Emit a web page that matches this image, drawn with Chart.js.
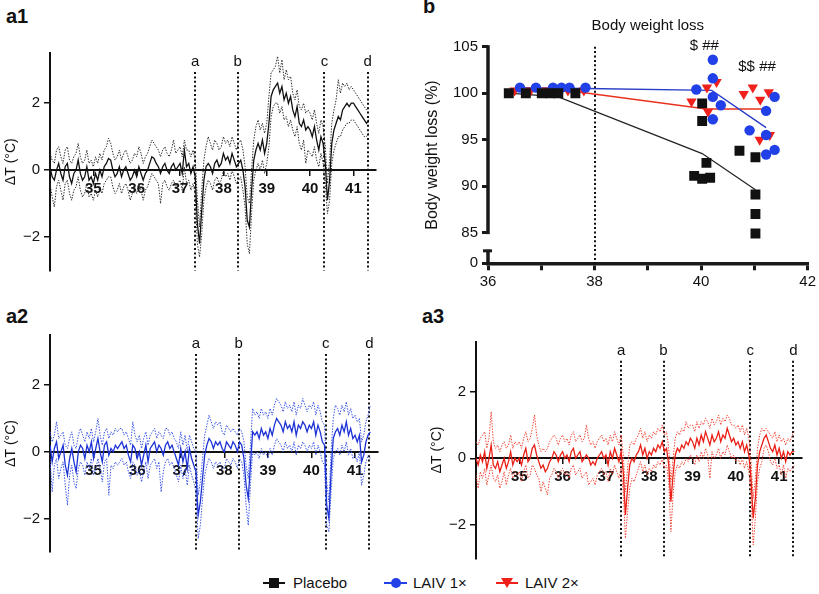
<!DOCTYPE html>
<html><head><meta charset="utf-8">
<script src="https://cdn.jsdelivr.net/npm/chart.js@4.4.1/dist/chart.umd.min.js"></script>
<style>
html,body{margin:0;padding:0;background:#fff;}
body{width:819px;height:594px;position:relative;overflow:hidden;font-family:"Liberation Sans",Arial,Helvetica,sans-serif;color:#111;}
canvas{position:absolute;}
.plabel{position:absolute;font-weight:bold;font-size:20px;line-height:20px;color:#111;}
.lg{position:absolute;}
.tx{position:absolute;font-size:15px;line-height:18px;top:574px;color:#111;white-space:nowrap;}
</style></head><body>
<div class="plabel" style="left:6px;top:6px">a1</div>
<div class="plabel" style="left:423px;top:-4px">b</div>
<div class="plabel" style="left:6px;top:306px">a2</div>
<div class="plabel" style="left:422px;top:306px">a3</div>

<canvas id="ca1" width="400" height="250" style="left:0;top:35px"></canvas>
<canvas id="cb" width="409" height="300" style="left:410px;top:0"></canvas>
<canvas id="ca2" width="400" height="250" style="left:0;top:318px"></canvas>
<canvas id="ca3" width="409" height="255" style="left:410px;top:318px"></canvas>

<div class="lg" style="left:263px;top:582px;width:22px;height:2px;background:#111"></div>
<div class="lg" style="left:269px;top:578px;width:10px;height:10px;background:#111"></div>
<div class="tx" style="left:293px">Placebo</div>
<div class="lg" style="left:384px;top:582px;width:23px;height:2px;background:#2140e8"></div>
<div class="lg" style="left:390.5px;top:578px;width:10px;height:10px;border-radius:50%;background:#2140e8"></div>
<div class="tx" style="left:413px">LAIV 1×</div>
<div class="lg" style="left:496px;top:582px;width:22px;height:2px;background:#f0201c"></div>
<div class="lg" style="left:501px;top:578px;width:0;height:0;border-left:6px solid transparent;border-right:6px solid transparent;border-top:10px solid #f0201c"></div>
<div class="tx" style="left:525px">LAIV 2×</div>

<script>
// ---------- DATA ----------
// Temperature traces: samples every 0.05 day starting at day 34.0
const TIME_START = 34.0;
const TIME_STEP = 0.05;
const X_TICKS = [35, 36, 37, 38, 39, 40, 41];
const Y_TICKS_T = [-2, 0, 2];
const MARKER_DAYS = [37.35, 38.33, 40.33, 41.33];
const MARKER_LETTERS = ['a', 'b', 'c', 'd'];

const a1Mean = [
 0.1,-0.2,-0.3,0.0,0.2,-0.1,-0.3,0.1,0.2,-0.2,-0.4,-0.1,0.0,0.3,-0.1,-0.3,-0.2,0.1,-0.3,-0.2,
 -0.4,-0.1,-0.3,0.0,-0.2,0.1,0.2,0.35,0.3,0.0,-0.2,-0.1,0.1,-0.2,0.0,0.1,-0.1,-0.3,-0.2,0.0,
 -0.2,0.1,-0.1,-0.3,-0.1,0.0,0.2,0.4,0.35,0.2,0.1,-0.1,0.1,0.2,0.0,-0.1,0.1,0.2,0.0,0.1,
 0.2,-0.1,0.6,0.1,0.2,-0.1,0.1,-0.2,-1.6,-2.2,-1.2,-0.3,0.1,0.2,0.1,-0.1,0.2,0.3,0.1,0.2,
 0.5,0.3,0.4,0.2,0.5,0.3,0.1,0.2,0.3,0.0,-0.5,-1.5,-1.7,-0.6,0.3,0.6,0.8,0.6,0.9,0.5,
 0.8,1.4,2.2,2.4,2.5,2.6,2.3,2.5,2.1,2.3,2.0,2.2,1.8,1.6,1.9,1.4,1.3,1.5,1.2,1.3,
 1.2,1.0,1.3,0.9,0.6,1.0,0.8,0.2,-0.9,-0.3,0.8,1.2,1.4,1.6,1.5,1.8,1.9,2.0,1.9,2.0,
 2.0,1.9,1.8,1.7,1.6,1.5,1.4,1.5];
const a1Upper = [
 0.5,0.3,0.2,0.6,0.7,0.4,0.2,0.6,0.7,0.3,0.2,0.4,0.5,0.8,0.4,0.2,0.3,0.6,0.2,0.3,
 0.1,0.4,0.2,0.5,0.3,0.6,0.7,0.95,0.8,0.5,0.3,0.4,0.6,0.3,0.5,0.6,0.4,0.2,0.3,0.5,
 0.4,0.7,0.5,0.2,0.4,0.5,0.7,0.9,0.8,0.7,0.6,0.4,0.6,0.7,0.5,0.4,0.6,0.9,0.5,0.6,
 0.7,0.4,0.9,0.6,0.6,0.4,0.6,0.3,-0.9,-1.7,-0.6,0.3,0.7,1.0,0.8,0.6,0.9,0.8,0.6,0.7,
 1.0,0.8,0.9,0.7,1.0,0.8,0.6,0.8,0.9,0.6,0.1,-0.8,-1.0,0.0,0.9,1.3,1.5,1.2,1.4,1.1,
 1.4,2.2,2.9,3.0,3.1,3.4,2.9,3.3,2.7,3.0,2.7,2.8,2.3,2.1,2.4,1.9,1.8,2.0,1.7,1.8,
 1.7,1.5,1.8,1.4,1.1,1.5,1.3,0.7,-0.4,0.3,1.4,1.8,2.1,2.7,2.3,2.6,2.5,2.6,2.4,2.5,
 2.4,2.3,2.2,2.1,2.0,1.9,1.8,1.9];
const a1Lower = [
 -0.4,-0.8,-1.1,-0.5,-0.3,-0.6,-0.9,-0.4,-0.3,-0.7,-0.9,-0.6,-0.5,-0.2,-0.6,-0.8,-0.7,-0.4,-0.8,-0.7,
 -0.9,-0.6,-0.8,-0.5,-0.7,-0.4,-0.3,-0.2,-0.2,-0.5,-0.7,-0.6,-0.4,-0.7,-0.5,-0.4,-0.6,-0.9,-0.7,-0.5,
 -0.7,-0.4,-0.6,-0.9,-0.6,-0.5,-0.3,-0.1,-0.2,-0.3,-0.4,-1.0,-0.4,-0.3,-0.5,-0.6,-0.4,-0.3,-0.5,-0.4,
 -0.3,-0.6,0.1,-0.4,-0.3,-0.6,-0.4,-0.7,-2.2,-2.6,-1.9,-0.9,-0.5,-0.3,-0.4,-0.6,-0.3,-0.2,-0.4,-0.3,
 0.0,-0.2,-0.1,-0.3,0.0,-0.2,-0.4,-0.3,-0.2,-0.6,-1.1,-2.2,-2.5,-1.3,-0.3,0.0,0.2,0.0,0.3,-0.1,
 0.2,0.7,1.6,1.9,2.0,2.0,1.7,1.9,1.5,1.6,1.3,1.5,1.2,1.0,1.3,0.8,0.6,0.9,0.2,0.6,
 0.5,0.4,0.7,0.3,0.1,0.5,0.2,-0.4,-1.3,-0.9,0.2,0.6,0.8,1.0,1.0,1.2,1.3,1.4,1.4,1.5,
 1.5,1.4,1.3,1.2,1.1,1.0,1.0,1.1];

const a2Mean = [
 0.2,-0.3,0.1,0.3,-0.2,0.0,0.2,-0.4,-0.7,-0.2,0.1,-0.3,-0.6,0.0,0.2,0.1,-0.2,0.2,0.0,0.3,
 -0.2,0.1,0.4,0.0,-0.3,0.2,0.3,-0.1,0.1,0.0,0.2,0.1,0.2,0.3,0.1,0.2,-0.1,-0.3,0.2,0.1,
 -0.2,0.0,-0.4,-0.1,0.2,-0.3,0.1,0.2,0.3,0.0,0.2,0.1,-0.1,0.2,0.3,0.1,0.2,0.0,-0.2,-0.4,
 0.1,-0.3,0.0,-0.5,0.1,-0.2,-0.4,-0.6,-1.9,-1.5,-0.8,-0.1,0.2,0.4,0.3,0.1,0.3,0.2,0.3,0.1,
 0.0,0.3,0.2,0.1,0.3,0.2,0.0,0.3,0.2,-0.2,-1.0,-1.4,-0.4,0.6,0.5,0.6,0.4,0.7,0.5,0.6,
 0.4,0.7,0.5,0.8,1.0,0.9,0.8,0.6,0.9,0.7,0.8,0.6,0.9,0.5,0.8,0.7,0.9,0.8,0.6,0.8,
 0.7,0.9,0.5,0.8,0.6,0.3,0.2,-1.6,-2.0,-0.6,0.4,0.6,0.7,0.5,0.8,0.6,0.9,0.5,0.7,0.4,
 0.5,0.3,0.5,-0.3,-0.1,0.3,0.5,0.6];
const a2Upper = [
 0.6,0.3,0.5,0.9,0.4,0.5,0.6,0.2,0.1,0.4,0.6,0.2,0.1,0.5,0.7,0.5,0.3,0.6,0.4,0.7,
 0.3,0.6,1.0,0.5,0.2,0.6,0.7,0.4,0.6,0.5,0.7,0.6,0.7,0.7,0.5,0.6,0.4,0.2,0.9,0.5,
 0.3,0.5,0.1,0.4,0.6,0.2,0.5,0.6,0.7,0.4,0.6,0.5,0.4,0.7,0.7,0.5,0.6,0.4,0.3,0.1,
 0.6,0.2,0.5,0.0,0.5,0.3,0.1,0.0,-1.3,-0.9,-0.2,0.5,0.8,1.1,0.9,0.7,0.9,0.8,0.9,0.6,
 0.5,0.8,0.7,0.6,0.7,0.6,0.5,0.7,0.6,0.3,-0.4,-0.8,0.2,1.3,1.1,1.2,1.0,1.3,1.1,1.2,
 1.0,1.3,1.1,1.4,1.6,1.5,1.4,1.2,1.5,1.3,1.4,1.2,1.5,1.1,1.4,1.3,1.6,1.4,1.2,1.4,
 1.3,1.5,1.1,1.4,1.2,0.9,0.8,-0.9,-1.5,0.0,1.0,1.4,1.3,1.1,1.4,1.2,1.5,1.1,1.3,1.0,
 1.1,0.9,1.0,0.3,0.5,0.9,1.1,1.4];
const a2Lower = [
 -0.2,-1.2,-0.4,-0.2,-0.8,-0.5,-0.3,-1.0,-1.6,-0.7,-0.4,-0.9,-1.1,-0.5,-0.3,-0.4,-0.7,-0.3,-0.5,-0.2,
 -0.7,-0.5,-0.2,-0.5,-0.9,-0.3,-0.2,-1.3,-0.4,-0.5,-0.3,-0.4,-0.3,-0.2,-0.4,-0.3,-0.6,-0.8,-0.3,-0.4,
 -0.7,-0.5,-0.9,-0.6,-0.3,-0.8,-0.4,-0.3,-0.2,-0.5,-0.3,-1.2,-0.6,-0.3,-0.2,-0.4,-0.3,-0.5,-0.7,-0.9,
 -0.4,-0.8,-0.5,-1.0,-0.4,-0.7,-0.9,-1.2,-2.6,-2.2,-1.4,-0.7,-0.4,-0.2,-0.3,-0.5,-0.3,-0.4,-0.3,-0.5,
 -0.5,-0.2,-0.3,-0.4,-0.2,-0.3,-0.5,-0.2,-0.3,-0.7,-1.6,-2.2,-1.0,0.0,-0.1,0.0,-0.2,0.1,-0.1,0.0,
 -0.2,0.1,-0.1,0.2,0.4,0.3,0.2,0.0,0.3,0.1,0.2,0.0,0.3,-0.1,0.2,0.1,0.3,0.2,0.0,0.2,
 0.1,0.3,-0.1,0.2,0.0,-0.3,-0.4,-2.2,-2.4,-1.2,-0.2,0.0,0.1,-0.1,0.2,0.0,0.3,-0.1,0.1,-0.2,
 -0.1,-0.3,0.0,-1.0,-0.7,-0.3,-0.1,-0.2];

const a3Mean = [
 0.0,-0.2,0.1,-0.1,0.2,-0.3,0.0,0.4,-0.2,-0.3,-0.1,-0.4,-0.2,0.0,-0.3,-0.1,0.2,-0.2,0.0,-0.1,
 0.0,-0.2,0.1,0.3,-0.1,0.0,0.3,0.4,0.1,-0.1,-0.3,-0.2,-0.4,-0.3,-0.1,0.0,0.2,0.1,-0.1,0.1,
 0.2,0.0,0.1,-0.1,0.2,0.3,0.0,0.1,0.2,-0.1,0.0,0.1,0.0,-0.2,-0.1,-0.2,0.0,0.1,0.2,0.0,
 0.1,-0.2,0.2,0.0,0.3,0.1,-0.1,0.2,-0.4,-1.7,-0.9,-0.2,0.0,-0.1,0.1,0.2,0.4,0.1,0.3,0.0,
 0.2,0.1,0.3,0.2,0.4,0.3,0.5,0.2,0.3,-0.2,-1.3,-0.5,0.1,0.3,0.2,0.4,0.3,0.5,0.4,0.6,
 0.5,0.3,0.6,0.4,0.7,0.5,0.8,0.6,0.4,0.7,0.5,0.6,0.8,0.5,0.7,0.6,0.9,0.7,0.5,0.6,
 0.4,0.5,0.3,0.5,0.2,0.4,0.1,-0.6,-1.8,-1.2,-0.2,0.2,0.4,0.6,0.7,0.5,0.3,0.2,0.4,0.1,
 0.3,0.0,0.2,-0.1,0.2,0.1,0.2,0.2];
const a3Upper = [
 0.5,0.4,0.6,0.7,0.8,0.3,0.6,1.4,0.5,0.3,0.4,0.2,0.4,0.5,0.3,0.4,0.7,0.3,0.5,0.4,
 0.5,0.3,0.6,0.8,0.5,0.6,0.9,1.3,0.7,0.4,0.2,0.3,0.2,0.3,0.5,0.6,0.7,0.6,0.4,0.6,
 0.7,0.5,0.6,0.4,0.7,0.8,0.5,0.6,0.7,0.5,0.6,1.0,0.6,0.4,0.5,0.3,0.5,0.6,0.7,0.5,
 0.6,0.4,0.7,0.5,0.8,0.6,0.4,0.7,0.1,-1.0,-0.3,0.4,0.5,0.4,0.6,0.7,0.9,0.6,0.8,0.5,
 0.7,0.6,0.8,0.7,0.9,0.8,1.0,0.7,0.8,0.3,-0.7,0.0,0.6,0.8,0.7,0.9,0.8,1.1,0.9,1.0,
 1.0,0.8,1.1,0.9,1.1,1.0,1.2,1.1,0.9,1.2,1.0,1.1,1.3,1.0,1.2,1.1,1.3,1.2,1.0,1.0,
 0.9,1.0,0.8,1.0,0.7,0.9,0.6,-0.1,-1.2,-0.6,0.3,0.7,0.9,0.8,0.9,0.8,0.7,0.6,0.8,0.5,
 0.7,0.5,0.6,0.4,0.6,0.5,0.7,0.8];
const a3Lower = [
 -0.5,-0.9,-0.4,-0.6,-0.3,-0.8,-0.5,-0.2,-0.6,-0.7,-0.5,-0.9,-0.7,-0.4,-0.8,-0.5,-0.3,-0.6,-0.4,-0.5,
 -0.4,-0.7,-0.4,-0.2,-0.6,-0.5,-0.2,-0.3,-0.5,-0.6,-1.0,-0.7,-0.9,-1.1,-0.6,-0.5,-0.3,-0.4,-0.6,-0.4,
 -0.3,-0.5,-0.4,-0.6,-0.3,-0.2,-0.5,-0.4,-0.3,-0.6,-0.5,-0.4,-0.8,-0.7,-0.6,-0.8,-0.5,-0.4,-0.3,-0.5,
 -0.4,-0.7,-0.3,-0.5,-0.2,-0.4,-0.6,-0.3,-1.0,-2.4,-1.6,-0.9,-0.6,-0.7,-0.5,-0.3,-0.1,-0.4,-0.2,-0.5,
 -0.3,-0.4,-0.2,-0.3,-0.1,-0.2,0.0,-0.3,-0.2,-0.7,-2.2,-1.1,-0.4,-0.2,-0.3,-0.1,-0.2,0.0,-0.1,0.1,
 0.0,-0.2,0.1,-0.1,0.2,0.0,0.3,0.1,-0.6,0.2,0.0,0.1,0.3,0.0,0.2,0.1,0.4,0.2,0.0,0.1,
 -0.1,0.0,-0.2,0.0,-0.3,-0.1,-0.4,-1.1,-2.6,-1.8,-0.7,-0.3,-0.1,0.3,0.4,0.2,-0.1,-0.2,0.0,-0.3,
 -0.2,-0.5,-0.2,-0.6,-0.3,-0.4,-0.3,-0.2];

// Body weight (panel b)
const placeboDay    = [36.39,36.71,37.01,37.17,37.32,37.64, 40.02,40.02,40.10,39.87,40.02,40.17, 40.72,41.02,41.02,41.02,41.02];
const placeboWeight = [100,100,100,100,100,100, 98.9,97.0,92.5,91.1,90.8,90.9, 93.8,93.1,89.1,87.0,84.9];
const laiv1Day    = [36.6,36.9,37.22,37.38,37.53,37.83, 39.91,40.22,40.22,40.22,40.37,40.22, 40.91,41.38,41.22,41.22,41.22,41.38];
const laiv1Weight = [100.6,100.6,100.6,100.6,100.6,100.6, 100.4,103.6,101.6,99.6,98.7,97.2, 96.0,99.6,98.1,95.5,93.4,93.9];
const laiv2Day    = [36.5,36.8,37.1,37.3,37.5,37.8, 39.82,40.11,40.29,40.13, 40.8,40.97,41.11,41.27,41.10,41.29];
const laiv2Weight = [100.3,100.3,100.3,100.3,100.3,100.3, 99.1,100.6,101.2,98.0, 99.9,100.6,99.3,100.1,95.0,95.5];
const placeboMeanDay = [36.39,37.32,40.02,41.02];
const placeboMeanWeight = [100,99.6,93.5,89.6];
const laiv1MeanDay = [36.6,37.83,40.2,41.22];
const laiv1MeanWeight = [100.6,100.5,100.3,96.3];
const laiv2MeanDay = [36.5,37.6,40.1,41.14];
const laiv2MeanWeight = [100.3,100.2,98.3,98.3];
const B_X_TICKS = [36,37,38,39,40,41,42];
const B_Y_ZERO = 81.7;        // where the broken axis shows "0"
const B_Y_BREAK = 83.15;      // upper end of the lower axis stub
const B_Y_TICKS = [B_Y_ZERO,85,90,95,100,105];
const B_VLINE_DAY = 38;
const B_NOTES = [{text:'$ ##', day:40.06, w:105.1},{text:'$$ ##', day:41.05, w:102.8}];

// ---------- STYLE ----------
const FONT = '"Liberation Sans", Arial, Helvetica, sans-serif';
const INK = '#111';
const BLUE = '#2140e8';
const RED = '#f0201c';

function toPoints(values){ return values.map((v,i)=>({x: TIME_START + i*TIME_STEP, y: v})); }
function pairs(xs, ys){ return xs.map((x,i)=>({x:x, y:ys[i]})); }
function minusFmt(v){ return v < 0 ? '\u2212' + Math.abs(v) : String(v); }

const markerPlugin = {
  id: 'markers',
  beforeDatasetsDraw(chart){
    const {ctx, chartArea, scales} = chart;
    const xs = scales.x;
    ctx.save();
    ctx.strokeStyle = INK; ctx.lineWidth = 2; ctx.setLineDash([2, 2.4]);
    MARKER_DAYS.forEach(d => {
      const px = Math.round(xs.getPixelForValue(d));
      ctx.beginPath(); ctx.moveTo(px, chartArea.top + 19); ctx.lineTo(px, chartArea.bottom); ctx.stroke();
    });
    ctx.setLineDash([]);
    ctx.fillStyle = INK; ctx.font = '15px ' + FONT; ctx.textAlign = 'center'; ctx.textBaseline = 'middle';
    MARKER_DAYS.forEach((d,i) => {
      ctx.fillText(MARKER_LETTERS[i], xs.getPixelForValue(d), chartArea.top + 9);
    });
    ctx.restore();
  }
};

function makeTempChart(id, mean, upper, lower, bandColor, meanColor, yWidth, titlePad, padding){
  return new Chart(document.getElementById(id), {
    type: 'line',
    data: { datasets: [
      {data: toPoints(mean), borderColor: meanColor, borderWidth: 1.3, pointRadius: 0, tension: 0},
      {data: toPoints(upper), borderColor: bandColor, borderWidth: 1, borderDash: [1.4, 1.4], pointRadius: 0, tension: 0},
      {data: toPoints(lower), borderColor: bandColor, borderWidth: 1, borderDash: [1.4, 1.4], pointRadius: 0, tension: 0}
    ]},
    options: {
      responsive: false, animation: false, devicePixelRatio: 1,
      layout: {padding: padding},
      plugins: {legend: {display: false}, tooltip: {enabled: false}},
      scales: {
        x: {
          type: 'linear', min: 34, max: 41.52, position: {y: 0},
          afterBuildTicks: s => { s.ticks = X_TICKS.map(v => ({value: v})); },
          grid: {drawOnChartArea: false, tickLength: 5, color: INK, lineWidth: 1.5},
          border: {color: INK, width: 2},
          ticks: {font: {family: FONT, size: 15, weight: 'bold'}, color: INK, padding: 5, maxRotation: 0, autoSkip: false}
        },
        y: {
          min: -3, max: 3.5,
          afterBuildTicks: s => { s.ticks = Y_TICKS_T.map(v => ({value: v})); },
          afterFit: s => { s.width = yWidth; },
          grid: {drawOnChartArea: false, tickLength: 6, color: INK, lineWidth: 1.5},
          border: {color: INK, width: 2},
          ticks: {font: {family: FONT, size: 15}, color: INK, padding: 4, callback: v => minusFmt(v)},
          title: {display: true, text: '\u0394T (\u00B0C)', color: INK, font: {family: FONT, size: 14}, padding: {top: titlePad, bottom: 0}}
        }
      }
    },
    plugins: [markerPlugin]
  });
}

makeTempChart('ca1', a1Mean, a1Upper, a1Lower, '#2a2a2a', INK, 50, 3, {top: 18, bottom: 14.5, left: 0, right: 24});
makeTempChart('ca2', a2Mean, a2Upper, a2Lower, '#3550e6', '#1d33d6', 50, 3, {top: 17, bottom: 16, left: 0, right: 22.3});
makeTempChart('ca3', a3Mean, a3Upper, a3Lower, '#f2402f', '#ea2016', 66, 19, {top: 23.7, bottom: 14.7, left: 0, right: 17.3});

const bDecor = {
  id: 'bDecor',
  beforeDatasetsDraw(chart){
    const {ctx, chartArea, scales: {x, y}} = chart;
    const ax = chartArea.left;
    ctx.save();
    ctx.strokeStyle = '#1a1a1a'; ctx.lineWidth = 3.5;
    ctx.beginPath(); ctx.moveTo(ax, y.getPixelForValue(105) - 1.5); ctx.lineTo(ax, y.getPixelForValue(85) + 1.5); ctx.stroke();
    const yb = y.getPixelForValue(B_Y_BREAK);
    ctx.beginPath(); ctx.moveTo(ax, yb); ctx.lineTo(ax, chartArea.bottom); ctx.stroke();
    ctx.lineWidth = 3;
    ctx.beginPath(); ctx.moveTo(ax - 5, yb + 1); ctx.lineTo(ax + 4, yb + 1); ctx.stroke();
    // dotted reference line
    ctx.strokeStyle = INK; ctx.lineWidth = 2; ctx.setLineDash([2, 2.4]);
    const px = Math.round(x.getPixelForValue(B_VLINE_DAY));
    ctx.beginPath(); ctx.moveTo(px, y.getPixelForValue(105)); ctx.lineTo(px, chartArea.bottom); ctx.stroke();
    ctx.setLineDash([]);
    ctx.fillStyle = INK; ctx.textAlign = 'center'; ctx.textBaseline = 'middle';
    ctx.font = '15px ' + FONT;
    ctx.fillText('Body weight loss', (chartArea.left + chartArea.right) / 2, chartArea.top - 21);
    B_NOTES.forEach(n => ctx.fillText(n.text, x.getPixelForValue(n.day), y.getPixelForValue(n.w)));
    ctx.restore();
  }
};

new Chart(document.getElementById('cb'), {
  type: 'scatter',
  data: { datasets: [
    {label: 'Placebo', data: pairs(placeboDay, placeboWeight), pointStyle: 'rect', pointRadius: 7, backgroundColor: INK, borderWidth: 0},
    {label: 'LAIV 1×', data: pairs(laiv1Day, laiv1Weight), pointStyle: 'circle', pointRadius: 5.2, backgroundColor: BLUE, borderWidth: 0},
    {label: 'LAIV 2×', data: pairs(laiv2Day, laiv2Weight), pointStyle: 'triangle', rotation: 180, pointRadius: 6, backgroundColor: RED, borderWidth: 0},
    {data: pairs(placeboMeanDay, placeboMeanWeight), showLine: true, borderColor: '#222', borderWidth: 1.2, pointRadius: 0},
    {data: pairs(laiv1MeanDay, laiv1MeanWeight), showLine: true, borderColor: '#2a3fc8', borderWidth: 1.4, pointRadius: 0},
    {data: pairs(laiv2MeanDay, laiv2MeanWeight), showLine: true, borderColor: '#e8321e', borderWidth: 1.4, pointRadius: 0}
  ]},
  options: {
    responsive: false, animation: false, devicePixelRatio: 1,
    layout: {padding: {top: 46.7, right: 11, bottom: 6.7, left: 0}},
    plugins: {legend: {display: false}, tooltip: {enabled: false}},
    scales: {
      x: {
        type: 'linear', min: 36, max: 42,
        afterBuildTicks: s => { s.ticks = B_X_TICKS.map(v => ({value: v})); },
        afterFit: s => { s.height = 30; },
        grid: {drawOnChartArea: false, tickLength: 7, color: '#1a1a1a', lineWidth: 3},
        border: {color: '#1a1a1a', width: 3.5},
        ticks: {font: {family: FONT, size: 15}, color: INK, padding: 3, maxRotation: 0, autoSkip: false,
                callback: v => (v % 2 === 0 ? String(v) : '')}
      },
      y: {
        min: B_Y_ZERO, max: 105,
        afterBuildTicks: s => { s.ticks = B_Y_TICKS.map(v => ({value: v})); },
        afterFit: s => { s.width = 78; },
        grid: {drawOnChartArea: false, tickLength: 6, color: '#1a1a1a', lineWidth: 3},
        border: {display: false},
        ticks: {font: {family: FONT, size: 15}, color: INK, padding: 4,
                callback: v => (v === B_Y_ZERO ? '0' : String(v))},
        title: {display: true, text: 'Body weight loss (%)', color: INK, font: {family: FONT, size: 16}, padding: {top: 13, bottom: 0}}
      }
    }
  },
  plugins: [bDecor]
});
</script>
</body></html>
